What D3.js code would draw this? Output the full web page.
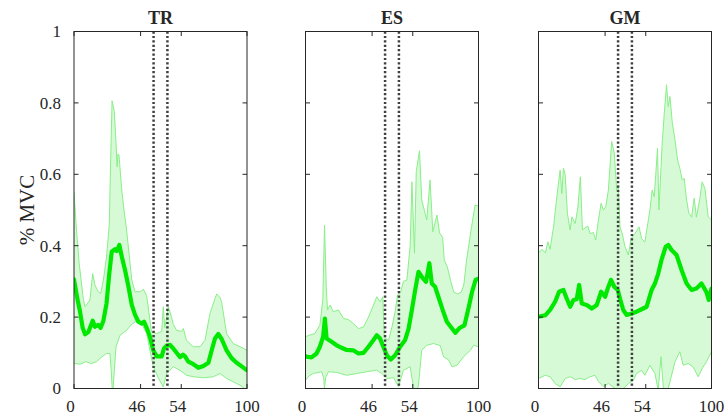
<!DOCTYPE html>
<html>
<head>
<meta charset="utf-8">
<script src="https://cdn.jsdelivr.net/npm/d3@7"></script>
<style>
  body { margin: 0; background: #fff; }
  text { font-family: "Liberation Serif", "Times New Roman", serif; fill: #262626; }
</style>
</head>
<body>
<svg id="chart" width="726" height="419"></svg>
<script>
// Muscle activation (% MVC) over the gait cycle (%), mean and spread band per muscle.
const muscles = ["TR", "ES", "GM"];

// [gait cycle %, activation]
const trMean = [[0,0.306],[2,0.25],[3.5,0.215],[5,0.17],[6.4,0.152],[8.3,0.158],[10.8,0.19],[12.1,0.173],[14,0.178],[15.4,0.17],[17,0.19],[18.8,0.238],[20.4,0.322],[21.8,0.383],[23.7,0.39],[24.7,0.385],[26.2,0.402],[27.6,0.37],[29.5,0.332],[31.5,0.285],[33.4,0.234],[35.3,0.206],[37.2,0.187],[39.2,0.182],[40.5,0.187],[42,0.17],[43.9,0.145],[45.8,0.107],[47.8,0.09],[50.7,0.09],[52,0.112],[53.6,0.12],[55.5,0.122],[57.4,0.112],[59.3,0.1],[61.3,0.088],[63,0.095],[64.2,0.09],[66.1,0.075],[69,0.068],[71.9,0.058],[74.8,0.063],[77.7,0.072],[79.6,0.107],[81.5,0.14],[83.4,0.153],[85.4,0.138],[88.2,0.107],[91.1,0.085],[94,0.072],[96.9,0.062],[100,0.051]];
const trUpper = [[0,0.55],[1.5,0.44],[3,0.35],[5.4,0.25],[6.4,0.229],[9.2,0.248],[10.8,0.322],[12.1,0.29],[14,0.271],[15.4,0.266],[17,0.304],[18.8,0.369],[20.4,0.46],[21,0.6],[22,0.806],[23.3,0.776],[24.3,0.687],[24.9,0.621],[25.4,0.657],[26,0.655],[27.6,0.556],[28.9,0.5],[30.4,0.444],[33.4,0.304],[35.3,0.271],[38.2,0.271],[40.1,0.278],[42,0.26],[44.8,0.159],[47.8,0.154],[50.7,0.16],[51.6,0.229],[52.5,0.17],[54.5,0.229],[56.4,0.2],[57.4,0.18],[59.3,0.163],[62.2,0.16],[63.2,0.168],[65,0.135],[69,0.117],[72.8,0.117],[75.7,0.135],[78.6,0.21],[81.5,0.252],[82.5,0.265],[84.4,0.255],[85.4,0.24],[88.2,0.154],[92,0.126],[96,0.117],[100,0.107]];
const trLower = [[0,0.07],[3.5,0.068],[6.9,0.075],[10,0.07],[13,0.075],[16,0.088],[18.8,0.098],[20.8,0.098],[21.5,0.05],[22.3,-0.02],[23.3,0.05],[24.3,0.117],[26.6,0.149],[30.4,0.163],[33.4,0.18],[36.3,0.19],[39.2,0.18],[42,0.154],[43.9,0.107],[45.8,0.061],[48.7,0.03],[51.6,0.004],[53.6,0.042],[57.4,0.061],[61.3,0.051],[65,0.037],[69,0.033],[74.8,0.03],[80.6,0.033],[84.4,0.042],[88.2,0.028],[92,0.019],[96,0.009],[100,-0.005]];

const esMean = [[0,0.091],[0.6,0.089],[3.5,0.087],[6.4,0.098],[8.3,0.117],[10.2,0.145],[11.2,0.196],[12.2,0.14],[15.1,0.131],[18,0.121],[20.9,0.114],[23.8,0.108],[27.6,0.107],[30.6,0.098],[33.5,0.1],[36.4,0.117],[39.3,0.136],[41.2,0.149],[43.1,0.14],[45,0.117],[47,0.093],[49.3,0.081],[51.8,0.093],[54.7,0.117],[57.6,0.136],[59.6,0.168],[61.5,0.22],[63.4,0.276],[65.3,0.327],[67.2,0.313],[69.7,0.299],[71.6,0.351],[73,0.294],[74.9,0.285],[76.8,0.257],[79.3,0.22],[81.7,0.187],[84.7,0.168],[86.6,0.156],[89.1,0.17],[91.9,0.177],[94.4,0.229],[96.3,0.271],[98.3,0.304],[100,0.308]];
const esUpper = [[0,0.145],[2.5,0.15],[5.4,0.154],[8.3,0.177],[10,0.248],[11,0.458],[12,0.285],[12.7,0.22],[14.3,0.234],[16,0.215],[19,0.22],[22,0.196],[24.8,0.193],[27.6,0.182],[30.6,0.168],[33.5,0.172],[36.4,0.2],[39.3,0.234],[41.2,0.257],[43.1,0.243],[44.7,0.257],[45.5,0.145],[48,0.135],[50,0.173],[51.8,0.215],[53.2,0.262],[55,0.27],[56.6,0.3],[58.6,0.304],[60.5,0.4],[61.5,0.579],[63,0.379],[64,0.607],[65.9,0.666],[67.2,0.528],[70.1,0.472],[72,0.584],[73.6,0.439],[76,0.486],[77.5,0.436],[79.3,0.423],[80.2,0.36],[82,0.34],[84,0.3],[85.7,0.27],[88,0.265],[90,0.27],[91.5,0.29],[93.1,0.36],[96,0.453],[98,0.514],[100,0.511]];
const esLower = [[0,0.023],[2,0.035],[4.5,0.042],[9.3,0.047],[10.5,0.03],[11,0.0],[11.6,0.03],[13.3,0.047],[18,0.045],[23.8,0.037],[29.6,0.042],[35.4,0.047],[41.2,0.051],[44.1,0.042],[47,0.028],[50.9,0.03],[53.8,0.005],[56.6,0.051],[60.5,0.061],[62.5,0.0],[64,-0.02],[65.3,0.01],[67.2,0.107],[70.1,0.121],[74,0.126],[77.9,0.12],[79.8,0.089],[82.7,0.08],[84.7,0.061],[87.6,0.065],[91.4,0.089],[95.3,0.107],[97.2,0.121],[100,0.117]];

const gmMean = [[0,0.201],[3.9,0.205],[6.7,0.22],[9.6,0.243],[11.9,0.271],[14.4,0.276],[16.3,0.252],[18.3,0.229],[20.2,0.248],[22.1,0.25],[23.5,0.29],[25,0.238],[27.9,0.234],[30.8,0.224],[33.7,0.234],[36.2,0.271],[38.5,0.257],[40,0.28],[41.9,0.304],[43.8,0.285],[45.8,0.276],[47.1,0.252],[49,0.22],[51,0.206],[53.9,0.21],[56.7,0.215],[59.6,0.222],[62.5,0.229],[65.4,0.276],[67.3,0.294],[69.2,0.322],[71.1,0.36],[73.5,0.397],[75,0.402],[76.9,0.388],[79.8,0.374],[82.7,0.332],[85.6,0.294],[88.5,0.276],[91.3,0.28],[94.2,0.294],[97.1,0.27],[98.4,0.248],[100,0.28]];
const gmUpper = [[0,0.38],[2,0.39],[4,0.38],[5.4,0.411],[6.7,0.39],[8.7,0.453],[10.6,0.537],[12.5,0.612],[13.5,0.546],[14.4,0.617],[15.4,0.6],[16.7,0.491],[18.3,0.444],[19.3,0.481],[21.2,0.462],[22.7,0.505],[24.2,0.593],[25.4,0.444],[26.9,0.45],[28.5,0.455],[29.8,0.434],[31.7,0.437],[33.1,0.416],[34.6,0.471],[36.2,0.519],[37.5,0.5],[38.9,0.51],[40.4,0.556],[42.3,0.692],[43.8,0.66],[45.2,0.556],[46.1,0.57],[47.1,0.453],[48.4,0.434],[50,0.397],[51.9,0.374],[53.5,0.42],[55.8,0.434],[58.1,0.453],[59.6,0.42],[61.5,0.41],[64.4,0.5],[65.7,0.556],[66.9,0.537],[68.8,0.673],[69.6,0.5],[71.5,0.687],[72.7,0.771],[74,0.851],[75,0.79],[76,0.818],[77.3,0.746],[78.9,0.696],[80.4,0.64],[81.7,0.617],[83.1,0.584],[84.2,0.589],[85.6,0.528],[86.9,0.491],[88.5,0.48],[90,0.533],[91.3,0.48],[93.3,0.533],[94.6,0.579],[96.2,0.56],[98.1,0.481],[100,0.472]];
const gmLower = [[0,0.028],[3.9,0.037],[6.7,0.033],[9.6,0.014],[12.5,0.005],[15.4,0.028],[18.3,0.033],[21.2,0.025],[24,0.028],[26.9,0.025],[29.8,0.033],[32.7,0.037],[34.6,0.02],[37.5,0.005],[40.4,0.014],[44.2,0],[48.1,-0.005],[52,0.014],[54.8,0.023],[56.7,0.042],[59.6,0.051],[61.5,0.037],[64.4,0.065],[67.3,0.042],[69.2,-0.005],[70.8,0.089],[72.2,0.0],[75,0.0],[78.9,0.075],[81.7,0.103],[83.6,0.065],[86.5,0.07],[89.4,0.06],[92.3,0.033],[95.1,0.06],[97.1,0.075],[100,0.103]];

const yTicks = [0, 0.2, 0.4, 0.6, 0.8, 1];
const yTickLabels = ["0", "0.2", "0.4", "0.6", "0.8", "1"];
const xTicks = [0, 38.5, 62, 100];
const xTickLabels = ["0", "46", "54", "100"];
const eventLines = [46, 54];
const yAxisLabel = "% MVC";

const series = [
  { mean: trMean, upper: trUpper, lower: trLower },
  { mean: esMean, upper: esUpper, lower: esLower },
  { mean: gmMean, upper: gmUpper, lower: gmLower }
];

const svg = d3.select("#chart");
const plotTop = 31.5, plotH = 357, plotW = 173;
const lefts = [74, 305.5, 538.5];
const tickLen = 4.5;
const axisColor = "#262626";

const y = d3.scaleLinear().domain([0, 1]).range([plotTop + plotH, plotTop]);
const x = d3.scaleLinear().domain([0, 100]).range([0, plotW]);
const line = d3.line().x(d => x(d[0])).y(d => y(d[1]));

muscles.forEach((name, i) => {
  const s = series[i];
  const g = svg.append("g").attr("transform", `translate(${lefts[i]},0)`);

  const clipId = "clip" + i;
  g.append("clipPath").attr("id", clipId)
    .append("rect").attr("x", 0).attr("y", plotTop).attr("width", plotW).attr("height", plotH);

  const plot = g.append("g").attr("clip-path", `url(#${clipId})`);

  // spread band
  const band = s.upper.concat(s.lower.slice().reverse());
  plot.append("path").attr("d", line(band) + "Z")
    .attr("fill", "#d5fad5").attr("stroke", "none");
  [s.upper, s.lower].forEach(edge => {
    plot.append("path").attr("d", line(edge))
      .attr("fill", "none").attr("stroke", "#8aee8a").attr("stroke-width", 1);
  });

  // mean curve
  plot.append("path").attr("d", line(s.mean))
    .attr("fill", "none").attr("stroke", "#00e800").attr("stroke-width", 4.2)
    .attr("stroke-linejoin", "round").attr("stroke-linecap", "round");

  // event markers
  eventLines.forEach(v => {
    g.append("line")
      .attr("x1", x(v)).attr("x2", x(v)).attr("y1", plotTop).attr("y2", plotTop + plotH)
      .attr("stroke", "#404040").attr("stroke-width", 2.5).attr("stroke-dasharray", "2.2,2.2");
  });

  // box
  g.append("rect").attr("x", 0).attr("y", plotTop).attr("width", plotW).attr("height", plotH)
    .attr("fill", "none").attr("stroke", axisColor).attr("stroke-width", 1);

  // y ticks on both sides
  yTicks.forEach((t, k) => {
    g.append("line").attr("x1", 0).attr("x2", tickLen).attr("y1", y(t)).attr("y2", y(t))
      .attr("stroke", axisColor);
    g.append("line").attr("x1", plotW - tickLen).attr("x2", plotW).attr("y1", y(t)).attr("y2", y(t))
      .attr("stroke", axisColor);
    if (i === 0) {
      g.append("text").attr("x", -13).attr("y", y(t)).attr("dy", "0.35em")
        .attr("text-anchor", "end").attr("font-size", 17).text(yTickLabels[k]);
    }
  });

  // x ticks top and bottom
  xTicks.forEach((t, k) => {
    g.append("line").attr("x1", x(t)).attr("x2", x(t)).attr("y1", plotTop + plotH).attr("y2", plotTop + plotH - tickLen)
      .attr("stroke", axisColor);
    g.append("line").attr("x1", x(t)).attr("x2", x(t)).attr("y1", plotTop).attr("y2", plotTop + tickLen)
      .attr("stroke", axisColor);
    g.append("text").attr("x", x(t) - (k === xTicks.length - 1 ? 0 : 3.5)).attr("y", 412)
      .attr("text-anchor", "middle").attr("font-size", 17).text(xTickLabels[k]);
  });

  g.append("text").attr("x", plotW / 2).attr("y", 24)
    .attr("text-anchor", "middle").attr("font-size", 18).attr("font-weight", "bold").text(name);
});

svg.append("text")
  .attr("transform", `translate(34,${plotTop + plotH / 2}) rotate(-90)`)
  .attr("text-anchor", "middle").attr("font-size", 21).text(yAxisLabel);
</script>
</body>
</html>
